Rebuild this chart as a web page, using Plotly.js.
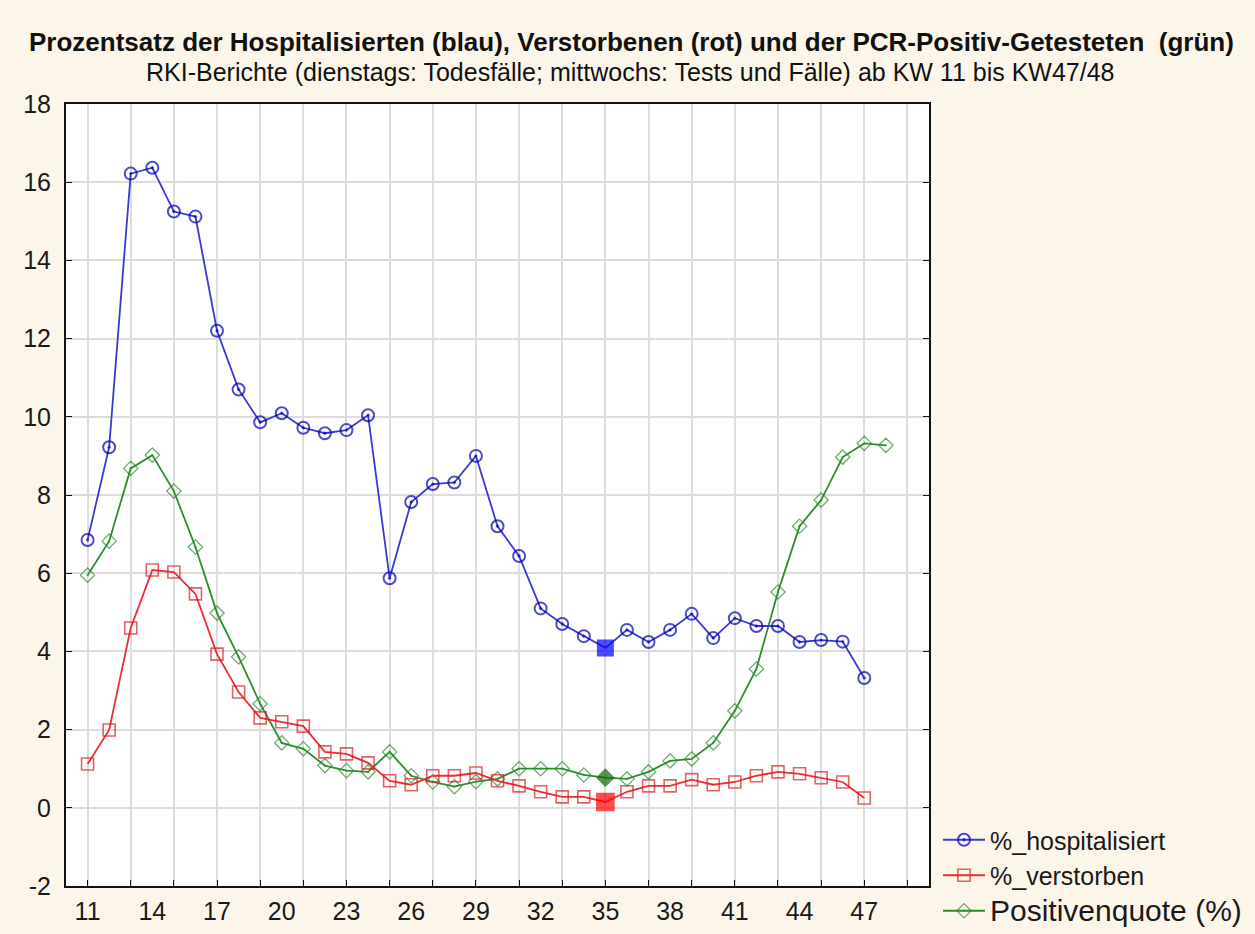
<!DOCTYPE html>
<html>
<head>
<meta charset="utf-8">
<script src="https://cdn.plot.ly/plotly-3.0.1.min.js"></script>
<style>html,body{margin:0;padding:0;background:#fcf6ea;}#chart{width:1255px;height:934px;}</style>
</head>
<body>
<div id="chart"></div>
<script>
// Kalenderwochen
const weeksHosp = [11,12,13,14,15,16,17,18,19,20,21,22,23,24,25,26,27,28,29,30,31,32,33,34,35,36,37,38,39,40,41,42,43,44,45,46,47];
const weeksPos  = [11,12,13,14,15,16,17,18,19,20,21,22,23,24,25,26,27,28,29,30,31,32,33,34,35,36,37,38,39,40,41,42,43,44,45,46,47,48];
// % hospitalisiert
const hospitalisiert = [6.85,9.22,16.22,16.37,15.25,15.12,12.2,10.7,9.86,10.09,9.72,9.58,9.66,10.04,5.87,7.82,8.28,8.32,9.0,7.2,6.44,5.1,4.70,4.39,4.09,4.55,4.24,4.55,4.96,4.34,4.85,4.65,4.65,4.24,4.29,4.25,3.32];
// % verstorben
const verstorben = [1.12,1.99,4.6,6.08,6.03,5.47,3.93,2.96,2.3,2.2,2.09,1.43,1.38,1.15,0.69,0.59,0.82,0.82,0.89,0.69,0.56,0.41,0.28,0.28,0.15,0.41,0.56,0.56,0.72,0.59,0.66,0.82,0.92,0.87,0.77,0.66,0.25];
// Positivenquote (%)
const positivenquote = [5.95,6.82,8.68,9.02,8.1,6.67,4.98,3.86,2.66,1.66,1.51,1.08,0.95,0.92,1.43,0.82,0.66,0.54,0.67,0.74,1.0,1.0,1.0,0.84,0.77,0.74,0.92,1.2,1.25,1.66,2.48,3.55,5.52,7.2,7.87,8.97,9.32,9.27];
const highlightWeek = 35;
const xTickLabels = [11,14,17,20,23,26,29,32,35,38,41,44,47];
const yTickLabels = [-2,0,2,4,6,8,10,12,14,16,18];

const sym = (weeks, normal, hi) => weeks.map(w => w === highlightWeek ? hi : normal);

const traces = [
  {
    x: weeksPos, y: positivenquote, name: '<span style="font-size:30px">Positivenquote (%)</span>',
    mode: 'lines+markers', type: 'scatter',
    line: {color: '#2e8b2e', width: 1.8},
    marker: {symbol: sym(weeksPos, 'diamond-open-dot', 'diamond'), size: sym(weeksPos, 11, 13),
             color: sym(weeksPos, '#2e8b2e', '#0a6a0a'), line: {width: 1.3, color: sym(weeksPos, '#2e8b2e', '#0a6a0a')}}
  },
  {
    x: weeksHosp, y: verstorben, name: '%_verstorben',
    mode: 'lines+markers', type: 'scatter',
    line: {color: '#e83030', width: 1.8},
    marker: {symbol: sym(weeksHosp, 'square-open', 'square'), size: sym(weeksHosp, 12, 17),
             color: sym(weeksHosp, '#d82020', '#ff0000'), line: {width: 1.6, color: sym(weeksHosp, '#d82020', '#ff0000')}}
  },
  {
    x: weeksHosp, y: hospitalisiert, name: '%_hospitalisiert',
    mode: 'lines+markers', type: 'scatter',
    line: {color: '#3a3ad0', width: 1.8},
    marker: {symbol: sym(weeksHosp, 'circle-open-dot', 'square'), size: sym(weeksHosp, 12, 15),
             color: sym(weeksHosp, '#0000b0', '#0000ff'), line: {width: 2, color: sym(weeksHosp, '#0000b0', '#0000ff')}}
  }
];

const layout = {
  width: 1255, height: 934,
  paper_bgcolor: '#fcf6ea', plot_bgcolor: '#ffffff',
  margin: {l: 66, r: 326, t: 104, b: 48, autoexpand: false},
  font: {family: 'Liberation Sans, Arial, sans-serif', color: '#1a1a1a', size: 20},
  showlegend: true,
  legend: {xref: 'container', yref: 'container', x: 938 / 1255, xanchor: 'left', y: 0, yanchor: 'bottom',
           bgcolor: 'rgba(0,0,0,0)',
           font: {size: 25, color: '#1a1a1a'}, traceorder: 'reversed', tracegroupgap: 0, itemwidth: 42},
  xaxis: {
    range: [10, 50], tickmode: 'array', tickvals: xTickLabels, ticktext: xTickLabels.map(String),
    showgrid: false, ticks: '', zeroline: false,
    showline: true, linecolor: '#111', linewidth: 2, mirror: true,
    tickfont: {size: 25}, ticklabelstandoff: 2,
    minor: {tick0: 11, dtick: 2, showgrid: true, gridcolor: '#dcdcdc', gridwidth: 2, ticks: 'inside', ticklen: 6, tickcolor: '#111', tickwidth: 1}
  },
  yaxis: {
    range: [-2, 18], tickmode: 'array', tickvals: yTickLabels, ticktext: yTickLabels.map(String),
    showgrid: true, gridcolor: '#dcdcdc', gridwidth: 2, zeroline: false,
    ticks: 'inside', ticklen: 6, tickcolor: '#111', tickwidth: 1,
    showline: true, linecolor: '#111', linewidth: 2, mirror: 'allticks',
    tickfont: {size: 25}, ticklabelstandoff: 8
  },
  annotations: [
    {text: '<b>Prozentsatz der Hospitalisierten (blau), Verstorbenen (rot) und der PCR-Positiv-Getesteten  (grün)</b>',
     xref: 'paper', yref: 'paper', x: (631 - 66) / 863, y: (886 - 42) / 782, xanchor: 'center', yanchor: 'middle',
     showarrow: false, font: {size: 26, color: '#111'}},
    {text: 'RKI-Berichte (dienstags: Todesfälle; mittwochs: Tests und Fälle) ab KW 11 bis KW47/48',
     xref: 'paper', yref: 'paper', x: (630 - 66) / 863, y: (886 - 72) / 782, xanchor: 'center', yanchor: 'middle',
     showarrow: false, font: {size: 25, color: '#111'}}
  ]
};

Plotly.newPlot('chart', traces, layout, {displayModeBar: false, staticPlot: true});
</script>
</body>
</html>
